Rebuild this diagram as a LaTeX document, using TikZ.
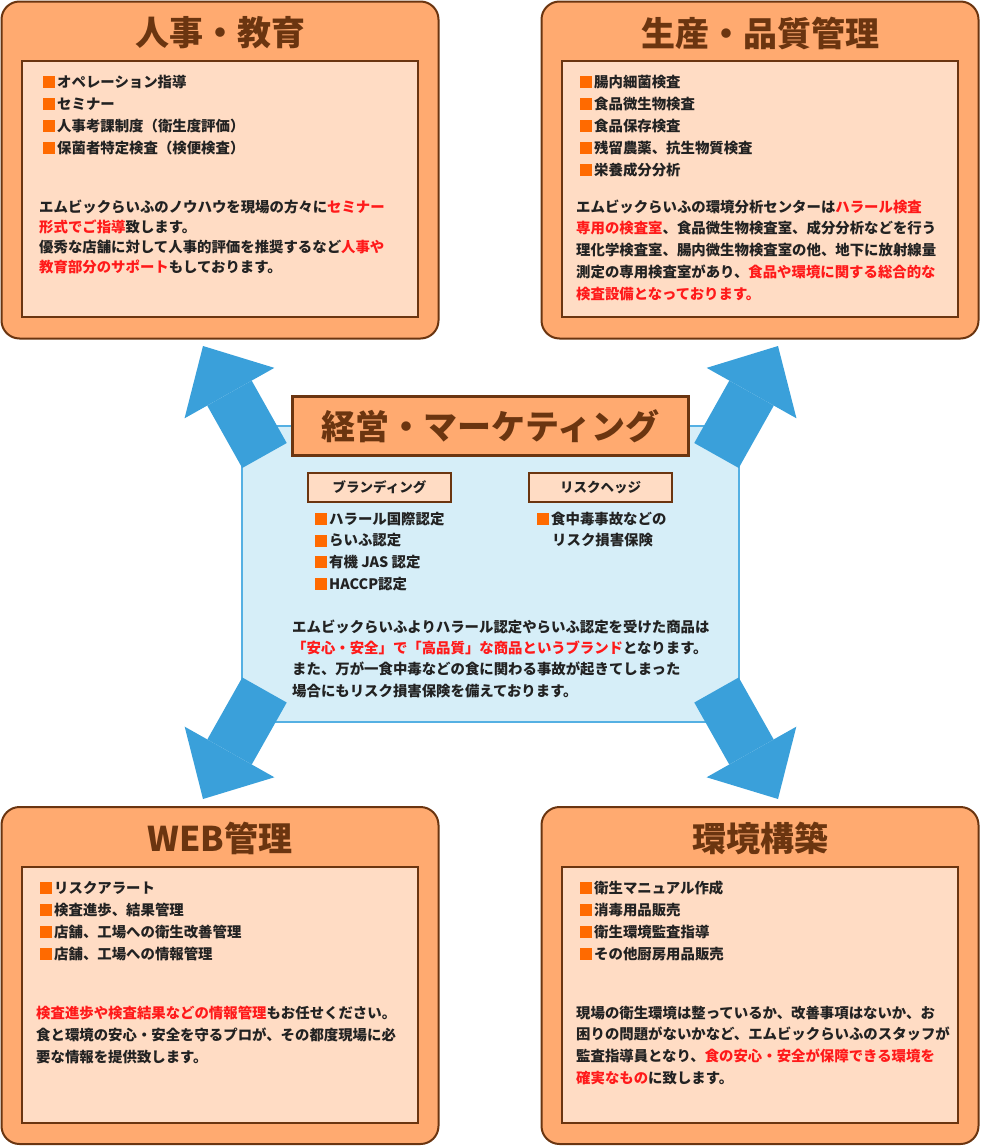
\documentclass[tikz,border=0pt]{standalone}
\usepackage{fontspec}
\setmainfont{Noto Sans CJK JP}
\usetikzlibrary{arrows.meta}

\definecolor{panelor}{HTML}{FFAA70}
\definecolor{peach}{HTML}{FFDCC4}
\definecolor{brdr}{HTML}{6B3510}
\definecolor{ttlbrown}{HTML}{6B3510}
\definecolor{bulor}{HTML}{FF6A00}
\definecolor{hotred}{HTML}{FF1A1A}
\definecolor{ink}{HTML}{222222}
\definecolor{arrowblue}{HTML}{3AA0DA}
\definecolor{skyfill}{HTML}{D6EEF8}
\definecolor{skyline}{HTML}{55B0E3}

\newcommand\bul{\textcolor{bulor}{\rule[-1pt]{12pt}{12pt}}\hspace{2pt}}
\newcommand\hot[1]{\textcolor{hotred}{#1}}
\newcommand\bodyfont{\fontsize{14.4}{21}\selectfont\bfseries}

\tikzset{
    panel/.style={draw=brdr, line width=2pt, fill=panelor, rounded corners=18pt,
        minimum width=437pt, minimum height=337pt, inner sep=0pt},
    sheet/.style={draw=brdr, line width=2.5pt, fill=peach,
        minimum width=396pt, minimum height=256pt, inner sep=0pt},
    ttl/.style={text=ttlbrown, inner sep=0pt, font=\fontsize{34}{34}\selectfont\bfseries},
    item/.style={anchor=base west, inner sep=0pt, text=ink, font=\bodyfont},
    tag/.style={draw=brdr, line width=2pt, fill=peach, minimum width=143pt,
        minimum height=29pt, inner sep=0pt, text=ink, font=\fontsize{13.5}{14}\selectfont\bfseries},
    fatarrow/.style={draw=arrowblue, line width=51pt,
        -{Triangle[width=103pt, length=54pt, line width=0pt]}}
}

\begin{document}
\begin{tikzpicture}[x=1pt, y=-1pt]
    \useasboundingbox (0,0) rectangle (980,1146);

    % Panels
    \node[panel] (hr)  at (220,170)   {};
    \node[panel] (qc)  at (760,170)   {};
    \node[panel] (web) at (220,975.5) {};
    \node[panel] (env) at (760,975.5) {};
    \node[sheet] (hrS)  at (220,189) {};
    \node[sheet] (qcS)  at (760,189) {};
    \node[sheet] (webS) at (220,995) {};
    \node[sheet] (envS) at (760,995) {};

    % Titles
    \node[ttl] (hrT)  at (220,33)  {人事・教育};
    \node[ttl] (qcT)  at (760,33)  {生産・品質管理};
    \node[ttl] (webT) at (220,838) {WEB管理};
    \node[ttl] (envT) at (760,838) {環境構築};

    % Centre area
    \node[draw=skyline, line width=2pt, fill=skyfill, minimum width=497pt,
        minimum height=296pt, inner sep=0pt] (mktA) at (490.5,574) {};

    % Arrows out of the centre
    \coordinate (nwTail) at (264.5,455.5);
    \coordinate (nwTip)  at (203,346);
    \coordinate (neTail) at (716.5,455.5);
    \coordinate (neTip)  at (778,346);
    \coordinate (swTail) at (264.5,690);
    \coordinate (swTip)  at (203,799);
    \coordinate (seTail) at (716.5,690);
    \coordinate (seTip)  at (778,799);
    \draw[fatarrow] (nwTail) -- (nwTip);
    \draw[fatarrow] (neTail) -- (neTip);
    \draw[fatarrow] (swTail) -- (swTip);
    \draw[fatarrow] (seTail) -- (seTip);

    \node[ttl, draw=brdr, line width=3pt, fill=panelor, minimum width=396pt,
        minimum height=59pt] (mkt) at (490.5,426) {経営・マーケティング};
    \node[tag] (brand) at (379.5,487.5) {ブランディング};
    \node[tag] (hedge) at (600.5,487.5) {リスクヘッジ};

    % Top-left text
    \foreach \t [count=\i from 0] in {オペレーション指導,セミナー,人事考課制度（衛生度評価）,保菌者特定検査（検便検査）}
        \node[item] (hrB\i) at (43,87+22*\i) {\bul\t};
    \foreach \t [count=\i from 0] in {
        エムビックらいふのノウハウを現場の方々に\hot{セミナー},
        \hot{形式でご指導}致します。,
        優秀な店舗に対して人事的評価を推奨するなど\hot{人事や},
        \hot{教育部分のサポート}もしております。}
        \node[item] (hrL\i) at (39,212+20*\i) {\t};

    % Top-right text
    \foreach \t [count=\i from 0] in {腸内細菌検査,食品微生物検査,食品保存検査,残留農薬、抗生物質検査,栄養成分分析}
        \node[item] (qcB\i) at (580,87+22*\i) {\bul\t};
    \foreach \t [count=\i from 0] in {
        エムビックらいふの環境分析センターは\hot{ハラール検査},
        \hot{専用の検査室}、食品微生物検査室、成分分析などを行う,
        理化学検査室、腸内微生物検査室の他、地下に放射線量,
        測定の専用検査室があり、\hot{食品や環境に関する総合的な},
        \hot{検査設備となっております。}}
        \node[item] (qcL\i) at (576,212+21.8*\i) {\t};

    % Centre text
    \foreach \t [count=\i from 0] in {ハラール国際認定,らいふ認定,有機 JAS 認定,HACCP認定}
        \node[item] (brB\i) at (315,524+21.7*\i) {\bul\t};
    \node[item] (rhB0) at (537,524) {\bul 食中毒事故などの};
    \node[item] (rhB1) at (552,545.7) {リスク損害保険};
    \foreach \t [count=\i from 0] in {
        エムビックらいふよりハラール認定やらいふ認定を受けた商品は,
        \hot{「安心・安全」で「高品質」な商品というブランド}となります。,
        また、万が一食中毒などの食に関わる事故が起きてしまった,
        場合にもリスク損害保険を備えております。}
        \node[item] (mkL\i) at (292,632+21.4*\i) {\t};

    % Bottom-left text
    \foreach \t [count=\i from 0] in {リスクアラート,検査進歩、結果管理,店舗、工場への衛生改善管理,店舗、工場への情報管理}
        \node[item] (webB\i) at (40,893+22*\i) {\bul\t};
    \foreach \t [count=\i from 0] in {
        \hot{検査進歩や検査結果などの情報管理}もお任せください。,
        食と環境の安心・安全を守るプロが、その都度現場に必,
        要な情報を提供致します。}
        \node[item] (webL\i) at (36,1018+22*\i) {\t};

    % Bottom-right text
    \foreach \t [count=\i from 0] in {衛生マニュアル作成,消毒用品販売,衛生環境監査指導,その他厨房用品販売}
        \node[item] (envB\i) at (580,893+22*\i) {\bul\t};
    \foreach \t [count=\i from 0] in {
        現場の衛生環境は整っているか、改善事項はないか、お,
        困りの問題がないかなど、エムビックらいふのスタッフが,
        監査指導員となり、\hot{食の安心・安全が保障できる環境を},
        \hot{確実なもの}に致します。}
        \node[item] (envL\i) at (576,1018+21.7*\i) {\t};
\end{tikzpicture}
\end{document}
